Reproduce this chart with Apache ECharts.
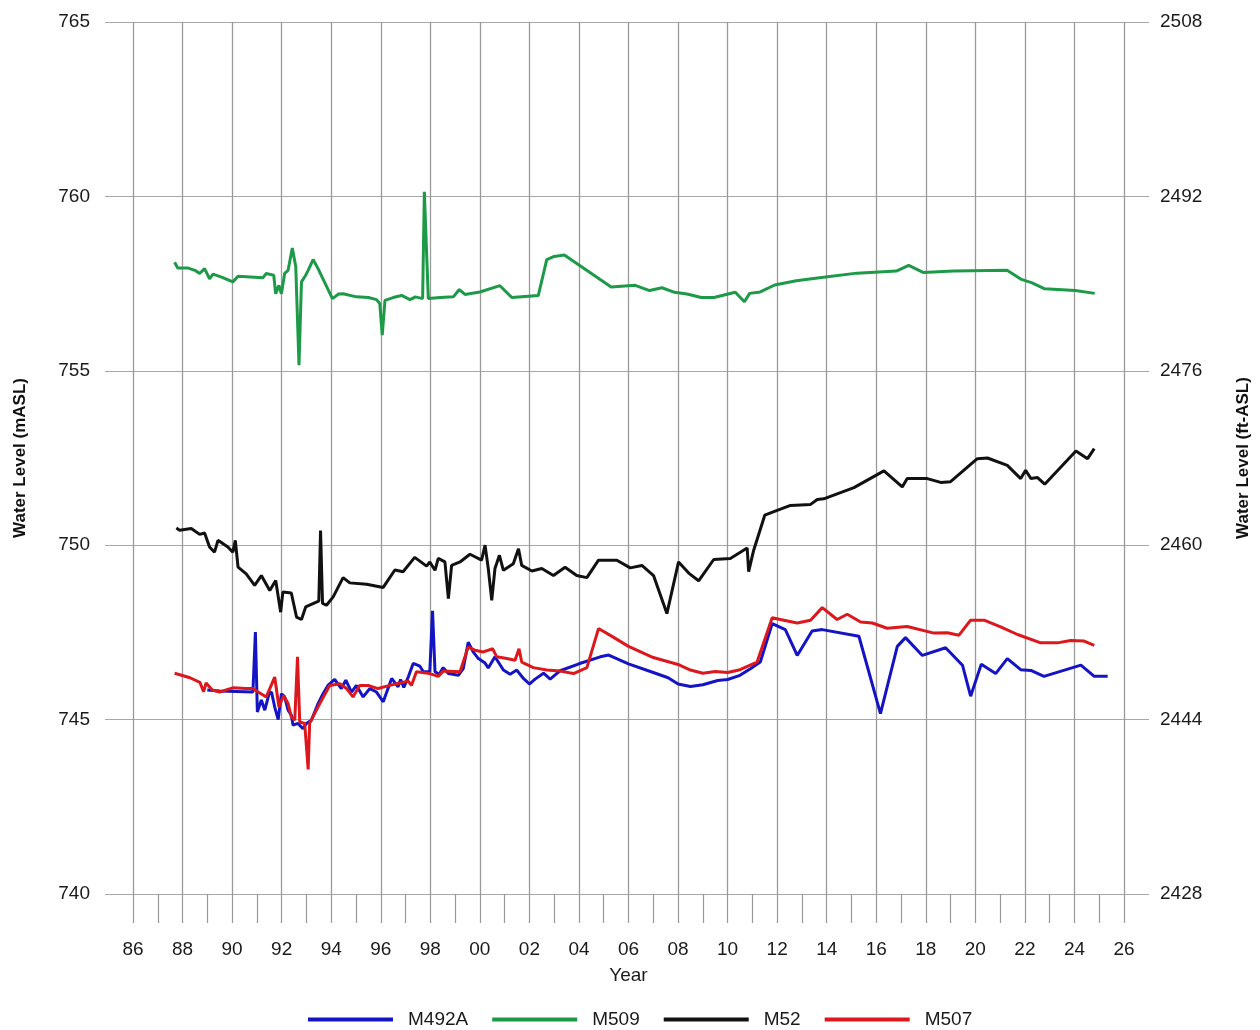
<!DOCTYPE html>
<html>
<head>
<meta charset="utf-8">
<script src="https://cdn.jsdelivr.net/npm/echarts@6/dist/echarts.min.js"></script>
<style>
html,body{margin:0;padding:0;background:#fff;}
#chart{width:1260px;height:1030px;}
</style>
</head>
<body>
<div id="chart"></div>
<script>
// ---- Data (year, water level in mASL) ----
const seriesNames = ['M492A', 'M509', 'M52', 'M507'];
const leftTicks = [740, 745, 750, 755, 760, 765];
const rightTicks = [2428, 2444, 2460, 2476, 2492, 2508];

const M492A = [[1989.0,745.85],[1989.5,745.82],[1990.84,745.79],[1990.94,747.51],[1991.02,745.22],[1991.18,745.56],[1991.32,745.27],[1991.49,745.74],[1991.59,745.79],[1991.72,745.36],[1991.86,745.0],[1991.99,745.74],[1992.12,745.65],[1992.26,745.27],[1992.39,745.13],[1992.46,744.84],[1992.66,744.89],[1992.86,744.74],[1993.0,744.89],[1993.2,744.98],[1993.47,745.46],[1993.67,745.74],[1993.87,745.98],[1994.14,746.15],[1994.41,745.89],[1994.59,746.13],[1994.82,745.79],[1995.02,745.98],[1995.29,745.65],[1995.56,745.89],[1995.83,745.79],[1996.1,745.51],[1996.44,746.18],[1996.7,745.94],[1996.8,746.15],[1996.93,745.92],[1997.11,746.22],[1997.31,746.61],[1997.58,746.53],[1997.72,746.37],[1997.98,746.37],[1998.09,748.12],[1998.19,746.37],[1998.36,746.3],[1998.52,746.49],[1998.73,746.32],[1999.13,746.27],[1999.33,746.46],[1999.53,747.22],[1999.73,746.94],[1999.94,746.75],[2000.21,746.62],[2000.34,746.48],[2000.61,746.8],[2000.95,746.42],[2001.22,746.3],[2001.49,746.42],[2001.76,746.18],[2002.0,746.02],[2002.23,746.16],[2002.57,746.33],[2002.84,746.16],[2003.04,746.28],[2003.24,746.4],[2004.0,746.6],[2004.86,746.8],[2005.2,746.85],[2006.0,746.6],[2007.0,746.35],[2007.6,746.2],[2008.0,746.02],[2008.5,745.95],[2009.0,746.0],[2009.6,746.12],[2010.0,746.15],[2010.5,746.27],[2010.92,746.46],[2011.32,746.65],[2011.8,747.75],[2012.33,747.58],[2012.81,746.84],[2013.41,747.54],[2013.82,747.58],[2015.3,747.39],[2016.17,745.17],[2016.85,747.1],[2017.18,747.35],[2017.86,746.84],[2018.8,747.06],[2019.48,746.56],[2019.81,745.67],[2020.24,746.59],[2020.82,746.32],[2021.29,746.75],[2021.83,746.43],[2022.24,746.41],[2022.77,746.24],[2024.26,746.56],[2024.8,746.24],[2025.34,746.24]];

const M509 = [[1987.68,758.11],[1987.8,757.95],[1988.2,757.95],[1988.5,757.88],[1988.69,757.79],[1988.89,757.93],[1989.09,757.64],[1989.23,757.77],[1989.6,757.68],[1990.03,757.55],[1990.24,757.71],[1991.25,757.67],[1991.38,757.79],[1991.68,757.74],[1991.76,757.21],[1991.89,757.45],[1991.99,757.21],[1992.12,757.79],[1992.26,757.88],[1992.43,758.52],[1992.57,757.98],[1992.7,755.16],[1992.8,757.55],[1992.97,757.74],[1993.07,757.88],[1993.27,758.19],[1993.47,757.93],[1994.05,757.07],[1994.3,757.2],[1994.48,757.21],[1995.02,757.12],[1995.5,757.1],[1995.83,757.04],[1995.96,756.93],[1996.06,756.02],[1996.17,757.02],[1996.5,757.1],[1996.84,757.16],[1997.18,757.04],[1997.4,757.12],[1997.69,757.07],[1997.76,760.13],[1997.92,757.07],[1998.4,757.1],[1998.93,757.12],[1999.17,757.33],[1999.4,757.19],[2000.0,757.26],[2000.81,757.44],[2001.29,757.1],[2002.36,757.16],[2002.7,758.19],[2003.0,758.28],[2003.41,758.32],[2005.3,757.4],[2006.27,757.45],[2006.85,757.3],[2007.35,757.38],[2007.86,757.25],[2008.36,757.2],[2008.94,757.1],[2009.45,757.1],[2010.31,757.25],[2010.68,756.98],[2010.89,757.22],[2011.32,757.26],[2011.9,757.46],[2012.77,757.58],[2013.63,757.66],[2015.22,757.8],[2016.81,757.86],[2017.31,758.02],[2017.89,757.82],[2019.12,757.86],[2021.28,757.88],[2021.86,757.62],[2022.29,757.52],[2022.8,757.35],[2024.03,757.3],[2024.82,757.22]];

const M52 = [[1987.75,750.49],[1987.88,750.43],[1988.35,750.48],[1988.69,750.31],[1988.89,750.35],[1989.09,749.95],[1989.29,749.8],[1989.43,750.14],[1989.83,749.95],[1990.03,749.8],[1990.13,750.14],[1990.24,749.37],[1990.57,749.18],[1990.91,748.85],[1991.18,749.13],[1991.52,748.7],[1991.76,748.99],[1991.96,748.08],[1992.05,748.66],[1992.39,748.63],[1992.6,747.94],[1992.8,747.87],[1992.97,748.23],[1993.4,748.37],[1993.5,748.4],[1993.57,750.42],[1993.65,748.33],[1993.81,748.28],[1994.08,748.52],[1994.48,749.07],[1994.75,748.92],[1995.43,748.88],[1996.1,748.79],[1996.57,749.29],[1996.9,749.24],[1997.37,749.65],[1997.85,749.4],[1997.98,749.52],[1998.19,749.28],[1998.32,749.62],[1998.59,749.52],[1998.73,748.47],[1998.86,749.42],[1999.2,749.52],[1999.6,749.74],[2000.07,749.57],[2000.21,750.0],[2000.34,749.33],[2000.48,748.42],[2000.61,749.33],[2000.79,749.71],[2000.95,749.28],[2001.35,749.47],[2001.56,749.9],[2001.69,749.42],[2002.1,749.26],[2002.5,749.33],[2002.97,749.13],[2003.44,749.37],[2003.91,749.13],[2004.32,749.07],[2004.79,749.57],[2005.53,749.57],[2006.07,749.35],[2006.54,749.42],[2007.01,749.13],[2007.55,748.04],[2008.02,749.52],[2008.43,749.2],[2008.83,748.98],[2009.44,749.59],[2010.11,749.62],[2010.79,749.92],[2010.85,749.24],[2011.05,749.85],[2011.5,750.86],[2012.0,751.0],[2012.54,751.14],[2013.35,751.17],[2013.62,751.31],[2013.88,751.33],[2015.1,751.65],[2016.31,752.13],[2017.05,751.67],[2017.25,751.91],[2018.06,751.91],[2018.6,751.8],[2019.0,751.82],[2020.08,752.48],[2020.49,752.5],[2021.29,752.29],[2021.83,751.91],[2022.03,752.15],[2022.24,751.91],[2022.51,751.94],[2022.8,751.75],[2024.06,752.7],[2024.53,752.48],[2024.8,752.77]];

const M507 = [[1987.68,746.33],[1988.3,746.2],[1988.7,746.07],[1988.85,745.8],[1988.95,746.05],[1989.2,745.85],[1989.5,745.79],[1990.03,745.91],[1990.57,745.89],[1990.84,745.89],[1991.05,745.79],[1991.38,745.65],[1991.72,746.22],[1991.89,745.36],[1992.08,745.69],[1992.26,745.46],[1992.39,745.08],[1992.53,744.98],[1992.64,746.8],[1992.73,744.93],[1992.93,744.89],[1993.07,743.57],[1993.13,744.89],[1993.33,745.17],[1993.54,745.46],[1993.94,745.98],[1994.35,746.03],[1994.62,745.89],[1994.88,745.65],[1995.15,745.98],[1995.49,745.98],[1995.89,745.89],[1996.37,745.98],[1996.77,746.05],[1997.11,746.1],[1997.24,745.98],[1997.44,746.37],[1997.98,746.32],[1998.32,746.24],[1998.52,746.39],[1999.2,746.37],[1999.53,747.08],[1999.8,746.99],[2000.14,746.94],[2000.52,747.03],[2000.68,746.8],[2001.09,746.75],[2001.42,746.7],[2001.58,747.03],[2001.69,746.65],[2002.16,746.49],[2002.7,746.42],[2003.24,746.39],[2003.78,746.32],[2004.32,746.49],[2004.79,747.61],[2005.3,747.4],[2006.0,747.1],[2007.0,746.78],[2008.0,746.58],[2008.5,746.42],[2009.0,746.33],[2009.5,746.38],[2010.0,746.35],[2010.5,746.43],[2011.19,746.65],[2011.8,747.92],[2012.27,747.85],[2012.81,747.77],[2013.35,747.85],[2013.82,748.21],[2014.42,747.87],[2014.83,748.02],[2015.37,747.8],[2015.84,747.77],[2016.44,747.62],[2017.25,747.67],[2018.33,747.48],[2018.87,747.49],[2019.34,747.42],[2019.81,747.85],[2020.35,747.85],[2021.02,747.66],[2021.7,747.44],[2022.64,747.2],[2023.31,747.2],[2023.85,747.27],[2024.39,747.25],[2024.8,747.13]];

const seriesData = [M492A, M509, M52, M507];
const colors = ['#1414c4', '#1d9a48', '#111111', '#dc181d'];

const FONT = "'Liberation Sans', Arial, sans-serif";
const chart = echarts.init(document.getElementById('chart'));

const gridTop = 22, gridBottom = 136;

chart.setOption({
  backgroundColor: '#ffffff',
  animation: false,
  textStyle: { fontFamily: FONT },
  grid: [
    { left: 105, right: 108, top: gridTop, bottom: gridBottom },
    { left: 133, right: 136, top: gridTop, bottom: gridBottom }
  ],
  xAxis: [
    { gridIndex: 0, type: 'value', min: 0, max: 1, show: false },
    {
      gridIndex: 1, type: 'value', min: 1986, max: 2026, interval: 2,
      name: 'Year', nameLocation: 'middle', nameGap: 72,
      nameTextStyle: { color: '#1a1a1a', fontSize: 19, fontFamily: FONT },
      axisLine: { show: false },
      axisTick: { show: true, length: 29, lineStyle: { color: '#999', width: 1.2 } },
      minorTick: { show: true, splitNumber: 2, length: 29, lineStyle: { color: '#999', width: 1.2 } },
      axisLabel: {
        margin: 46, color: '#1a1a1a', fontSize: 19, fontFamily: FONT,
        formatter: v => String(Math.round(v) % 100).padStart(2, '0')
      },
      splitLine: { show: true, lineStyle: { color: '#9a9a9a', width: 1.3 } }
    }
  ],
  yAxis: [
    {
      gridIndex: 0, type: 'value', position: 'left',
      min: leftTicks[0], max: leftTicks[leftTicks.length - 1], interval: 5,
      name: 'Water Level (mASL)', nameLocation: 'middle', nameGap: 76,
      nameTextStyle: { color: '#111', fontSize: 17, fontWeight: 'bold', fontFamily: FONT },
      axisLine: { show: false }, axisTick: { show: false },
      axisLabel: { margin: 15, color: '#1a1a1a', fontSize: 19, fontFamily: FONT,
        formatter: v => String(v) },
      splitLine: { show: true, lineStyle: { color: '#a8a8a8', width: 1.2 } }
    },
    {
      gridIndex: 0, type: 'value', position: 'right',
      min: rightTicks[0], max: rightTicks[rightTicks.length - 1], interval: 16,
      name: 'Water Level (ft-ASL)', nameLocation: 'middle', nameGap: 86,
      nameTextStyle: { color: '#111', fontSize: 17, fontWeight: 'bold', fontFamily: FONT },
      axisLine: { show: false }, axisTick: { show: false },
      axisLabel: { margin: 11, color: '#1a1a1a', fontSize: 19, fontFamily: FONT,
        formatter: v => String(v) },
      splitLine: { show: false }
    },
    {
      gridIndex: 1, type: 'value',
      min: leftTicks[0], max: leftTicks[leftTicks.length - 1], show: false
    }
  ],
  legend: {
    left: 303, top: 1005,
    icon: 'rect', itemWidth: 85, itemHeight: 4, itemGap: 24,
    textStyle: { color: '#1a1a1a', fontSize: 19, fontFamily: FONT, padding: [0, 0, 0, 10] },
    data: seriesNames
  },
  series: seriesNames.map((n, i) => ({
    name: n, type: 'line', xAxisIndex: 1, yAxisIndex: 2,
    data: seriesData[i], showSymbol: false, symbol: 'none',
    lineStyle: { color: colors[i], width: 3 }, itemStyle: { color: colors[i] },
    z: 3 + i
  }))
});
</script>
</body>
</html>
